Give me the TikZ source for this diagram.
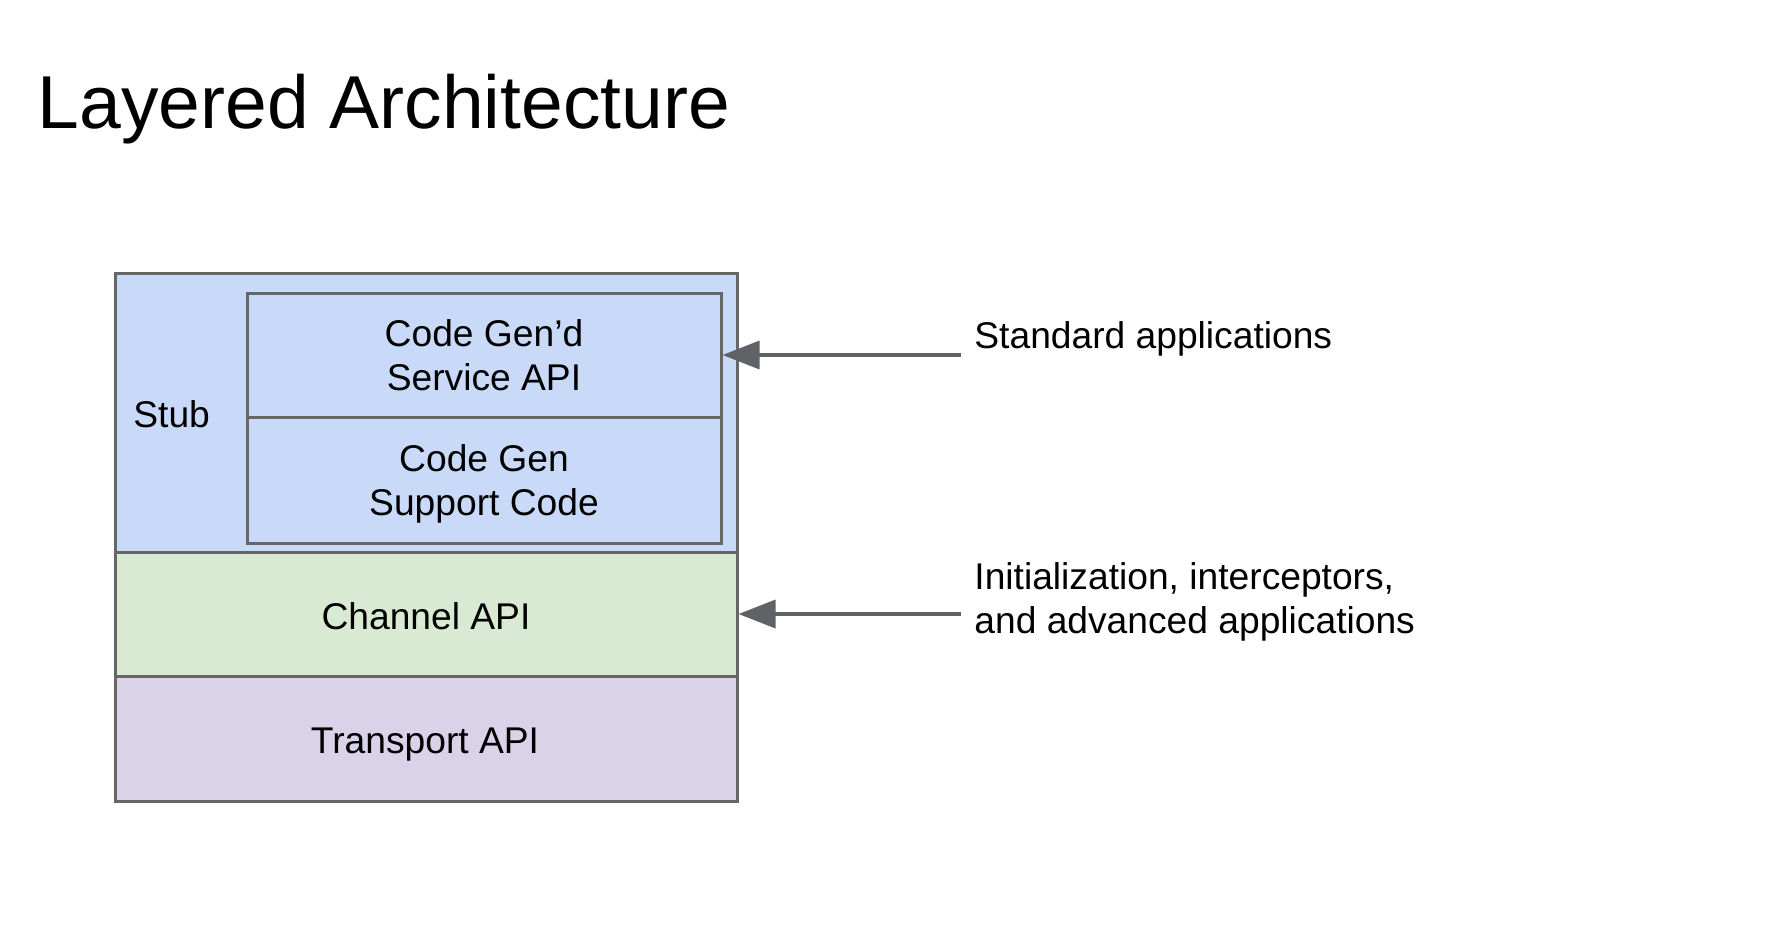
\documentclass[tikz,border=0pt]{standalone}
\usepackage{fontspec}
\setmainfont{Liberation Sans}
\usetikzlibrary{arrows.meta}
\definecolor{edge}{HTML}{666666}
\definecolor{arrowc}{HTML}{5F6368}
\definecolor{stubfill}{HTML}{C9DAF8}
\definecolor{chanfill}{HTML}{D9EAD3}
\definecolor{transfill}{HTML}{D9D2E9}
\begin{document}
\begin{tikzpicture}[x=0.5pt,y=-0.5pt,
  body/.style={font=\fontsize{18.6}{22}\selectfont},
  layer/.style={draw=edge,line width=1.5pt,rectangle,inner sep=0pt,minimum width=311pt},
  inner/.style={layer,fill=stubfill,minimum width=237pt},
  lbl/.style={body,inner sep=0pt,align=center,anchor=base},
  arr/.style={draw=arrowc,line width=1.75pt,-{Triangle[length=18.5pt,width=14pt]}}]
\useasboundingbox (0,0) rectangle (1770,933);
\node[anchor=base west,inner sep=0pt,font=\fontsize{37.5}{45}\selectfont] (title) at (37.5,128) {Layered Architecture};
% layers
\node[layer,fill=stubfill,minimum height=139.5pt] (stub) at (426,412.5) {};
\node[layer,fill=chanfill,minimum height=62pt] (chan) at (426,614) {};
\node[layer,fill=transfill,minimum height=62.5pt] (trans) at (426,738.5) {};
\node[inner,minimum height=62pt] (svc) at (484,355) {};
\node[inner,minimum height=63pt] (sup) at (484,480) {};
% texts in the layers (base = baseline of the last line)
\node[lbl,anchor=base west] (stubt) at (133,427) {Stub};
\node[lbl] (svct) at (484,390.7) {Code Gen’d\\Service API};
\node[lbl] (supt) at (484,515) {Code Gen\\Support Code};
\node[lbl] (chant) at (426,629) {Channel API};
\node[lbl] (transt) at (425,753.3) {Transport API};
% labels
\node[lbl,anchor=base west] (std) at (974,348) {Standard applications};
\node[lbl,anchor=base west,align=left] (adv) at (974,633) {Initialization, interceptors,\\and advanced applications};
% connectors
\coordinate (a1) at (961,355);
\coordinate (a2) at (961,614);
\draw[arr] (a1) -- (svc.east);
\draw[arr] (a2) -- (chan.east);
\end{tikzpicture}
\end{document}
